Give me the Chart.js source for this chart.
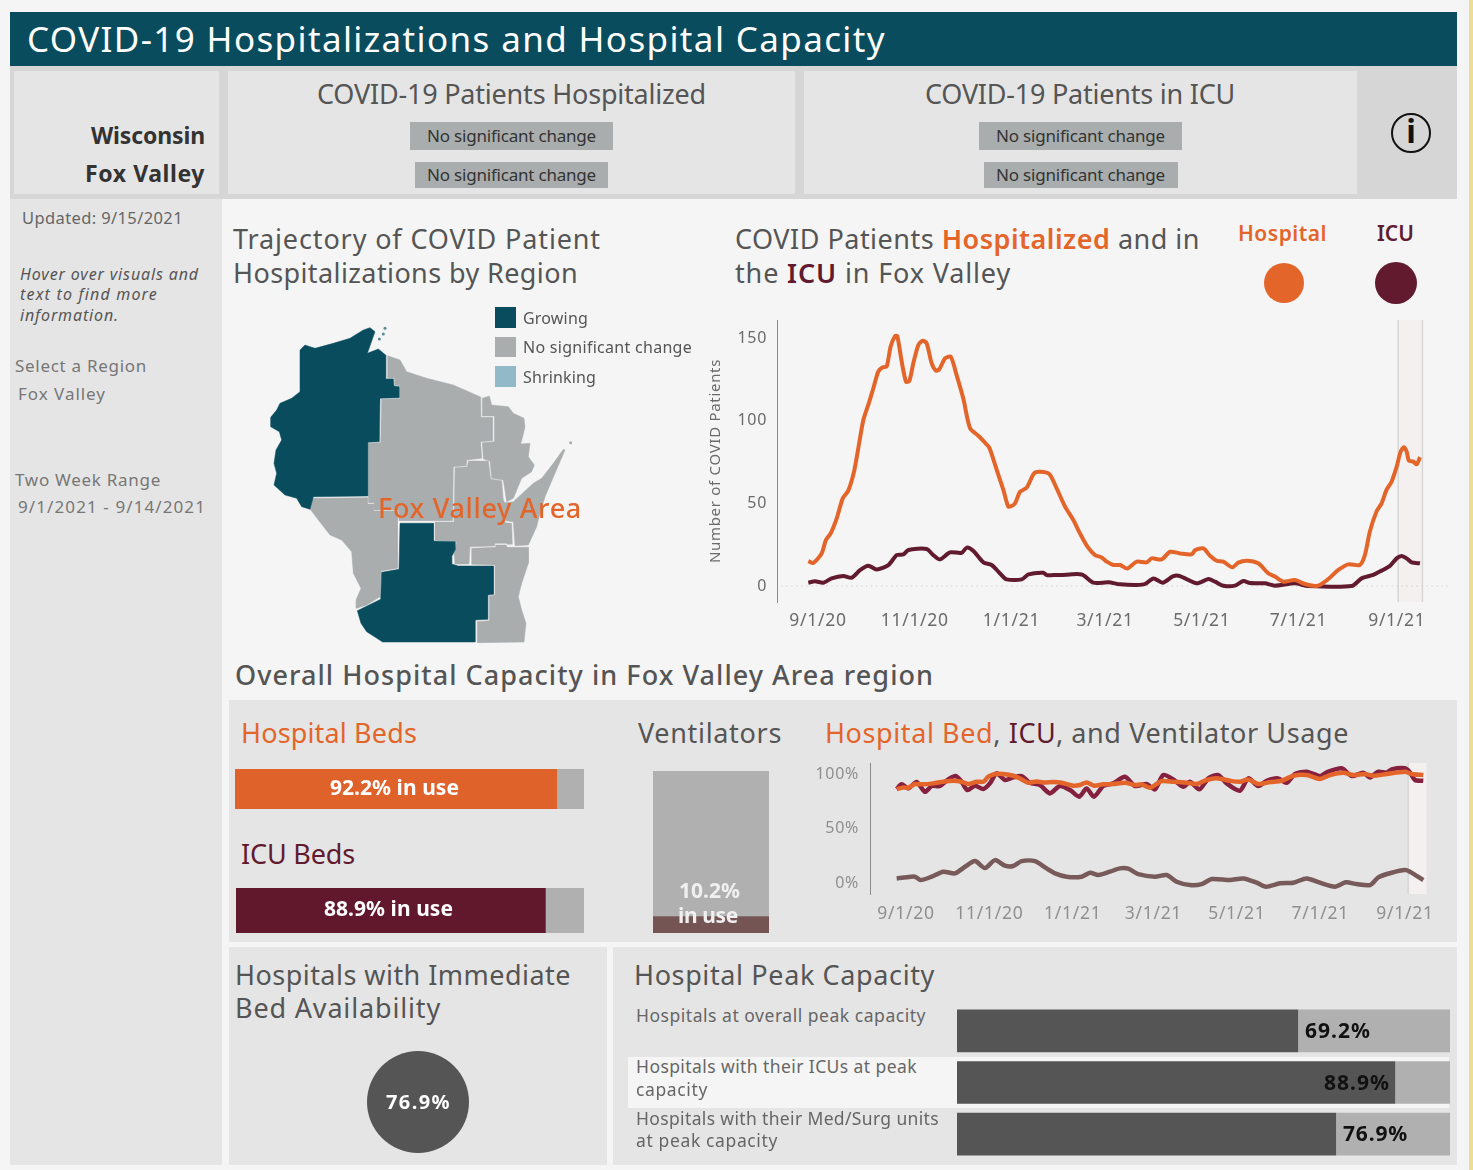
<!DOCTYPE html>
<html>
<head>
<meta charset="utf-8">
<title>COVID-19 Hospitalizations and Hospital Capacity</title>
<script src="https://cdn.jsdelivr.net/npm/chart.js@4"></script>
<style>
  html, body { margin: 0; padding: 0; background: #f5f5f5; }
  body { position: relative; width: 1473px; height: 1170px; overflow: hidden; font-family: "Noto Sans", sans-serif; }
  .box { position: absolute; }
  canvas { position: absolute; }
  .t { position: absolute; white-space: nowrap; line-height: 1; transform: translateY(-53%); z-index: 5; }
  .o { color: #e4652a; font-weight: 600; }
  .m { color: #611a2e; font-weight: 600; }
</style>
</head>
<body>
<!-- panels -->
<div class="box" style="left:10px;top:12px;width:1447px;height:54px;background:#084c5e"></div>
<div class="box" style="left:10px;top:66px;width:1447px;height:133px;background:#d6d6d6"></div>
<div class="box" style="left:14px;top:71px;width:205px;height:123px;background:#e5e5e5"></div>
<div class="box" style="left:228px;top:71px;width:567px;height:123px;background:#e5e5e5"></div>
<div class="box" style="left:804px;top:71px;width:553px;height:123px;background:#e5e5e5"></div>
<div class="box" style="left:10px;top:199px;width:212px;height:966px;background:#e5e5e5"></div>
<div class="box" style="left:229px;top:700px;width:1228px;height:242px;background:#e5e5e5"></div>
<div class="box" style="left:229px;top:947px;width:378px;height:218px;background:#e5e5e5"></div>
<div class="box" style="left:613px;top:947px;width:844px;height:218px;background:#e5e5e5"></div>
<div class="box" style="left:628px;top:1057px;width:821px;height:51px;background:#f5f5f5"></div>
<div class="box" style="left:1469px;top:0;width:4px;height:1170px;background:#ecdc96"></div>

<!-- status tags -->
<div class="box" style="left:410px;top:122px;width:203px;height:28px;background:#a9adae"></div>
<div class="box" style="left:415px;top:162px;width:193px;height:26px;background:#a9adae"></div>
<div class="box" style="left:979px;top:122px;width:203px;height:28px;background:#a9adae"></div>
<div class="box" style="left:984px;top:162px;width:194px;height:26px;background:#a9adae"></div>

<!-- legend swatches -->
<div class="box" style="left:495px;top:307px;width:21px;height:21px;background:#084c5e"></div>
<div class="box" style="left:495px;top:337px;width:21px;height:20px;background:#a9adae"></div>
<div class="box" style="left:495px;top:366px;width:21px;height:21px;background:#91b9c8"></div>
<div class="box" style="left:1264px;top:263px;width:40px;height:40px;border-radius:50%;background:#e4652a"></div>
<div class="box" style="left:1375px;top:262px;width:42px;height:42px;border-radius:50%;background:#611a2e"></div>
<div class="box" style="left:1391px;top:113px;width:36px;height:36px;border:2px solid #111;border-radius:50%"></div>

<!-- charts -->
<canvas id="mapChart" width="340" height="340" style="left:250px;top:310px"></canvas>
<canvas id="patientsChart" width="760" height="320" style="left:700px;top:315px"></canvas>
<canvas id="usageChart" width="630" height="175" style="left:810px;top:755px"></canvas>
<canvas id="hospitalBedChart" width="349" height="40" style="left:235px;top:769px"></canvas>
<canvas id="icuBedChart" width="348" height="45" style="left:236px;top:888px"></canvas>
<canvas id="ventilatorChart" width="116" height="162" style="left:653px;top:771px"></canvas>
<canvas id="availabilityChart" width="120" height="120" style="left:358px;top:1042px"></canvas>
<canvas id="peakChart" width="493" height="155" style="left:957px;top:1005px"></canvas>

<!-- text -->
<div class="t" data-w="859" style="left:27px;top:40px;font-size:35px;color:#fff">COVID-19 Hospitalizations and Hospital Capacity</div>
<div class="t" data-w="114" style="left:91px;top:136px;font-size:23px;font-weight:700;color:#333">Wisconsin</div>
<div class="t" data-w="120" style="left:85px;top:174px;font-size:23px;font-weight:700;color:#333">Fox Valley</div>
<div class="t" data-w="389" style="left:317px;top:94px;font-size:27px;color:#555">COVID-19 Patients Hospitalized</div>
<div class="t" data-w="310" style="left:925px;top:94px;font-size:27px;color:#555">COVID-19 Patients in ICU</div>
<div class="t" data-w="169" style="left:427px;top:136px;font-size:17px;color:#333">No significant change</div>
<div class="t" data-w="169" style="left:427px;top:175px;font-size:17px;color:#333">No significant change</div>
<div class="t" data-w="169" style="left:996px;top:136px;font-size:17px;color:#333">No significant change</div>
<div class="t" data-w="169" style="left:996px;top:175px;font-size:17px;color:#333">No significant change</div>
<div class="t" style="left:1403px;top:132px;font-size:32px;font-weight:700;color:#111;width:16px;text-align:center">i</div>

<div class="t" data-w="161" style="left:22px;top:219px;font-size:16.5px;color:#666">Updated: 9/15/2021</div>
<div class="t" data-w="179" style="left:20px;top:274px;font-size:16px;font-style:italic;color:#555">Hover over visuals and</div>
<div class="t" data-w="138" style="left:20px;top:294px;font-size:16px;font-style:italic;color:#555">text to find more</div>
<div class="t" data-w="99" style="left:20px;top:315px;font-size:16px;font-style:italic;color:#555">information.</div>
<div class="t" data-w="132" style="left:15px;top:366px;font-size:17px;color:#777">Select a Region</div>
<div class="t" data-w="88" style="left:18px;top:394px;font-size:17px;color:#777">Fox Valley</div>
<div class="t" data-w="146" style="left:15px;top:480px;font-size:17px;color:#777">Two Week Range</div>
<div class="t" data-w="188" style="left:18px;top:507px;font-size:17px;color:#777">9/1/2021 - 9/14/2021</div>

<div class="t" data-w="368" style="left:233px;top:239px;font-size:27px;color:#555">Trajectory of COVID Patient</div>
<div class="t" data-w="345" style="left:233px;top:273px;font-size:27px;color:#555">Hospitalizations by Region</div>
<div class="t" data-w="65" style="left:523px;top:318px;font-size:16px;color:#555">Growing</div>
<div class="t" data-w="169" style="left:523px;top:347px;font-size:16px;color:#555">No significant change</div>
<div class="t" data-w="73" style="left:523px;top:377px;font-size:16px;color:#555">Shrinking</div>
<div class="t" data-w="204" style="left:378px;top:508px;font-size:27px;font-weight:500;color:#e4652a">Fox Valley Area</div>

<div class="t" data-w="465" style="left:735px;top:239px;font-size:27px;color:#555">COVID Patients <span class="o">Hospitalized</span> and in</div>
<div class="t" data-w="276" style="left:735px;top:273px;font-size:27px;color:#555">the <span class="m">ICU</span> in Fox Valley</div>
<div class="t" data-w="89" style="left:1238px;top:234px;font-size:21px;font-weight:600;color:#e4652a">Hospital</div>
<div class="t" data-w="37" style="left:1377px;top:234px;font-size:21px;font-weight:600;color:#611a2e">ICU</div>

<div class="t" data-w="699" style="left:235px;top:675px;font-size:27px;font-weight:500;color:#555">Overall Hospital Capacity in Fox Valley Area region</div>
<div class="t" data-w="176" style="left:241px;top:733px;font-size:27px;color:#e4652a">Hospital Beds</div>
<div class="t" data-w="114" style="left:241px;top:854px;font-size:27px;color:#611a2e">ICU Beds</div>
<div class="t" data-w="144" style="left:638px;top:733px;font-size:27px;color:#555">Ventilators</div>
<div class="t" data-w="524" style="left:825px;top:733px;font-size:27px;color:#555"><span style="color:#e4652a">Hospital Bed</span>, <span style="color:#611a2e">ICU</span>, and Ventilator Usage</div>
<div class="t" data-w="129" style="left:330px;top:788px;font-size:21px;font-weight:700;color:#fff">92.2% in use</div>
<div class="t" data-w="129" style="left:324px;top:909px;font-size:21px;font-weight:700;color:#fff">88.9% in use</div>
<div class="t" data-w="61" style="left:679px;top:891px;font-size:21px;font-weight:700;color:#f0f0f0">10.2%</div>
<div class="t" data-w="60" style="left:678px;top:916px;font-size:21px;font-weight:700;color:#f0f0f0">in use</div>

<div class="t" data-w="336" style="left:235px;top:975px;font-size:27px;color:#555">Hospitals with Immediate</div>
<div class="t" data-w="206" style="left:235px;top:1008px;font-size:27px;color:#555">Bed Availability</div>
<div class="t" data-w="65" style="left:386px;top:1103px;font-size:20px;font-weight:700;color:#fff">76.9%</div>
<div class="t" data-w="301" style="left:634px;top:975px;font-size:27px;color:#555">Hospital Peak Capacity</div>
<div class="t" data-w="290" style="left:636px;top:1016px;font-size:17.5px;color:#666">Hospitals at overall peak capacity</div>
<div class="t" data-w="281" style="left:636px;top:1067px;font-size:17.5px;color:#666">Hospitals with their ICUs at peak</div>
<div class="t" data-w="72" style="left:636px;top:1090px;font-size:17.5px;color:#666">capacity</div>
<div class="t" data-w="303" style="left:636px;top:1119px;font-size:17.5px;color:#666">Hospitals with their Med/Surg units</div>
<div class="t" data-w="142" style="left:636px;top:1141px;font-size:17.5px;color:#666">at peak capacity</div>
<div class="t" data-w="66" style="left:1305px;top:1031px;font-size:21px;font-weight:700;color:#111">69.2%</div>
<div class="t" data-w="66" style="left:1324px;top:1083px;font-size:21px;font-weight:700;color:#111">88.9%</div>
<div class="t" data-w="65" style="left:1343px;top:1134px;font-size:21px;font-weight:700;color:#111">76.9%</div>

<script>
// days counted from 9/1/20
const tickDays = [0, 61, 122, 181, 242, 303, 365];
const tickLabels = ["9/1/20", "11/1/20", "1/1/21", "3/1/21", "5/1/21", "7/1/21", "9/1/21"];

const hospitalDays = [-6.1,-3,2.3,5,8,11.8,15.6,19.1,22.7,25.4,28.6,31.7,34.9,38,40.8,43.3,45.8,48.6,50,52.8,55.5,57.6,60.1,63.3,66,68.5,71.7,74.4,76.5,80.1,83.7,87.4,91.6,95.9,101.1,104.7,108,112.7,116.9,120,122.1,124.3,127.4,131.6,136.2,140,145.9,150.5,155.8,161,165.2,169.9,174.7,178.9,182.1,186.3,190.5,195.1,201,207.3,210.4,216.7,222,228.3,235.7,237.8,243,247.2,251.4,255.6,261.2,265,270.3,277.6,283.9,288.1,293.4,300.7,307,313.4,316.5,321.8,328.1,334.4,341.7,344.9,348,352.2,355.4,358.5,361.7,364.9,367.4,369.5,371.2,372.6,375.4,377.5,379.6];
const hospitalPatients = [15.1,13.9,19.7,27.8,31.8,40.9,53,57.7,69.1,83.3,100.4,109.5,119.6,129.7,132.3,132.7,144.8,151.2,151.2,135.7,123.6,124,134.7,145.8,148.4,146.8,134.7,130.3,131.1,137.7,138.7,127.6,113.5,95.4,90.9,87.3,83.7,70.2,58.1,48,48.4,50,57,59.5,68.1,69.1,67.7,59,48,39.9,31.8,23.8,18.7,17.3,14.7,12.7,12.7,10.6,14.7,14.3,16.7,16.1,20.7,19.7,19.1,21.7,22.7,18.3,15.3,14.7,11.3,14.1,15.3,13.7,7.7,5.7,2.6,3.6,1.2,0,0.6,4.2,9.7,13.1,12.7,18.8,32.9,45,50,58.1,63.1,72.2,81.3,83.9,81.3,75.8,75.2,73.6,77.9];

const icuDays = [-6.1,-1.9,3.4,8.6,16,21.2,26.5,31.7,37,44.4,49.6,53.8,57,68.5,72.7,76.9,83.2,90.6,93.8,98,104.3,109.5,114.8,119,128.5,132.7,142.1,144.2,148.4,152.6,166.3,173.7,183.1,190.5,201,206.2,211.5,217.4,224.1,228.3,238.8,246.2,250.4,255.6,262.9,268.2,272.4,281.8,288.1,300.7,309.1,336.5,342.8,350.1,355.4,360.6,364.9,368,371.2,374.3,379.6];
const icuPatients = [2,2.8,2,4.6,6,5,9.6,12.3,10,12.7,18.7,19.1,21.8,22.4,18.7,16.1,20.3,20.1,23.2,21.2,14.3,12.7,7.6,4,4,7,8,6.6,6.6,6.6,7,2,2.2,1,0.6,1.2,4.6,2,6,6,1.6,4.2,2.6,0.2,0.2,3,1.8,1.6,0.2,1.6,0,0,4.6,6.7,9.3,12.1,16.7,18.2,16.7,14.3,13.7];

const bedUseDays = [-6.8,-1.9,1.7,6.6,12.7,20,27.3,34.6,40.7,45.6,51.7,56.6,60.2,65.1,71.2,78.5,84.6,89.5,95.6,100.5,107.8,113.9,122.4,127.3,132.1,137.5,144.3,151.6,160.2,167.5,172.4,178.5,183.3,187,195.5,205.3,212.6,219.9,227.2,237,244.3,250.4,257.7,266.3,274.8,283.3,293.1,302.8,310.1,319.9,327.2,335.7,341.8,351.6,365,369.9,378.4];
const bedUsePct = [86.2,87.7,87.4,90.8,90.5,91.4,92.9,93.8,92.9,90.8,92.9,92.9,97.5,100,100,98.4,95.1,92,93.2,92.3,92.6,92,89.3,89.9,92.3,89.3,90.5,90.8,92,89.9,90.5,87.4,90.8,93.5,92.9,92,90.8,94.5,96,93.8,92.9,95,90.8,92.6,93.8,98.4,99,95.4,99,101.2,99,100,98.4,100,102.1,100,99];

const icuUseDays = [-6.8,-3.2,1.7,7.8,13.9,18.8,24.9,31,36.3,40.7,44.9,50.5,56.6,61.4,66.3,72.4,78.5,84.6,90.7,98,105.3,112.6,120,126.8,132.1,137.5,144.3,151.6,160.2,167.5,176,182.1,188.2,195.5,202.9,207.7,214.6,221.2,228.5,234.6,244.3,250.4,257.7,263.8,272.3,278.4,284.5,293.1,302.8,307.7,318.7,326,334.5,339.4,345.5,351.6,355.2,365,368.6,372.3,378.4];
const icuUsePct = [86.2,90.5,86.8,92.6,83.7,89,89,95.1,98.1,92.9,85.3,89.3,86.2,91.4,100.6,94.5,96.9,98.1,92,89.9,82.2,89,85.3,79.2,86.8,79.2,89,91.4,97.5,89,90.8,85.9,99,95,88.3,92.9,85.9,96,99,91.4,84.7,96,89,93.8,96,92,100,102.1,98.1,101.5,105.2,98.1,101.2,96.9,102.1,101.2,104.2,105.2,101.5,94.5,93.8];

const ventUseDays = [-6.8,0.5,6.6,10.7,18.8,27.3,35.8,43.2,50.5,57.8,65.1,72.4,78.5,84.6,94.4,101.7,109,117.5,128.5,134.6,140.7,149.2,156.5,162.6,169.9,182.1,190.7,198,207.7,216.3,223.6,237,246.8,256.5,263.3,273.6,283.3,293.1,302.8,313.8,321.6,329.6,339.4,345.5,355.2,365,368.6,378.4];
const ventUsePct = [4.2,5.2,5.8,2.7,5.8,10.4,8.8,14.9,20.1,13.7,21,15.9,15.6,20.1,20.1,14.3,8.8,5.8,5.8,9.4,7.3,10.4,13.4,13.1,8.2,5.8,7.3,1.2,-1.9,-1,3.6,2.7,4.2,0.3,-3.4,-0.3,0.3,4.2,0.3,-3.4,0.6,-1,-1.9,5.2,9.4,11.9,10.4,2.7];

const hospitalBedsUsed = [92.2];
const hospitalBedsFree = [7.8];
const icuBedsUsed = [88.9];
const icuBedsFree = [11.1];
const ventilatorsUsed = [10.2];
const ventilatorsFree = [89.8];
const immediateBeds = [76.9];
const peakRows = ["Overall", "ICU", "Med/Surg"];
const peakAtCapacity = [69.2, 88.9, 76.9];
const peakRest = [30.8, 11.1, 23.1];

// region outlines, in map units
const regionNorthwest = [[150,120],[165,105],[180,110],[195,115],[250,100],[300,85],[340,60],[360,53],[375,65],[368,85],[352,130],[385,117],[407,135],[407,207],[430,207],[432,228],[447,230],[447,263],[390,265],[388,395],[353,397],[353,558],[190,560],[180,598],[155,590],[140,565],[105,555],[72,525],[80,490],[72,460],[78,420],[95,390],[88,365],[62,350],[62,322],[80,300],[90,280],[125,265],[150,245]];
const regionNorth = [[413,137],[450,150],[470,185],[530,205],[610,225],[690,260],[692,322],[727,322],[727,392],[692,395],[695,445],[650,450],[648,467],[610,470],[608,632],[555,632],[447,632],[445,600],[372,600],[372,578],[355,578],[355,400],[392,398],[395,268],[450,266],[450,228],[435,225],[433,205],[412,205]];
const regionNortheast = [[697,265],[718,258],[725,285],[775,290],[790,310],[822,325],[825,350],[818,380],[812,402],[840,400],[835,440],[853,465],[845,485],[815,505],[790,565],[770,575],[760,510],[725,505],[720,453],[700,447],[697,398],[733,395],[733,318],[697,318]];
const regionLakeshore = [[765,578],[790,575],[850,520],[875,505],[910,460],[940,418],[945,420],[915,490],[885,560],[870,610],[860,650],[835,705],[795,707],[790,635],[768,632]];
const regionFoxValley = [[615,473],[652,470],[655,453],[715,453],[722,508],[755,512],[760,570],[770,590],[765,638],[785,640],[787,703],[772,703],[770,700],[735,700],[733,708],[660,710],[657,762],[615,762],[612,730],[620,695],[555,690],[555,636],[612,636]];
const regionWest = [[188,565],[352,563],[352,582],[370,582],[370,603],[442,603],[442,775],[393,783],[390,860],[350,885],[320,895],[318,870],[333,835],[310,790],[305,725],[275,690],[240,675],[205,630],[180,597]];
const regionSouth = [[450,640],[550,640],[550,693],[615,695],[615,720],[605,740],[605,762],[625,768],[730,768],[730,853],[713,855],[713,928],[675,930],[675,996],[398,996],[350,965],[333,940],[322,902],[392,868],[395,787],[447,778]];
const regionSoutheast = [[665,715],[735,712],[737,705],[768,705],[772,712],[835,712],[835,760],[815,820],[805,860],[815,900],[828,940],[822,996],[682,998],[682,935],[718,932],[718,858],[735,855],[735,765],[665,763]];
const islandsTeal = [[405,55],[400,72],[388,87]];
const islandsGray = [[962,398]];

const ORANGE = "#e4652a";
const MAROON = "#611a2e";
const TEAL = "#084c5e";
const GRAY = "#a9adae";

// stretch the text so it takes the same width as the original
document.querySelectorAll(".t[data-w]").forEach((el) => {
  const w = el.getBoundingClientRect().width;
  el.style.letterSpacing = (Number(el.dataset.w) - w) / el.textContent.length + "px";
});

function points(xs, ys) {
  return xs.map((x, i) => ({ x: x, y: ys[i] }));
}

function noAxisPadding(axis) {
  axis.paddingTop = 0;
  axis.paddingBottom = 0;
  axis.paddingLeft = 0;
  axis.paddingRight = 0;
}

// axis labels are a little more spread out than the font's default
const spacedText = {
  id: "spacedText",
  beforeDraw(chart) {
    chart.ctx.letterSpacing = "0.7px";
  },
};

function bandPlugin(start, end, bothSides) {
  return {
    id: "band",
    beforeDatasetsDraw(chart) {
      const { ctx, chartArea, scales } = chart;
      const x0 = scales.x.getPixelForValue(start);
      const x1 = scales.x.getPixelForValue(end);
      ctx.save();
      ctx.fillStyle = "#f3f0ef";
      ctx.fillRect(x0, chartArea.top, x1 - x0, chartArea.bottom - chartArea.top);
      ctx.fillStyle = "#d6d6d6";
      ctx.fillRect(x0 - 1, chartArea.top, 1.5, chartArea.bottom - chartArea.top);
      if (bothSides) ctx.fillRect(x1 - 0.5, chartArea.top, 1.5, chartArea.bottom - chartArea.top);
      ctx.restore();
    },
  };
}

function lineSet(xs, ys, color, width) {
  return {
    data: points(xs, ys),
    borderColor: color,
    borderWidth: width,
    pointRadius: 0,
    tension: 0.25,
    borderJoinStyle: "round",
    clip: false,
  };
}

function xAxis(min, max, height, color, padding) {
  return {
    type: "linear",
    min: min,
    max: max,
    grid: { display: false },
    border: { display: false },
    afterBuildTicks: (axis) => { axis.ticks = tickDays.map((d) => ({ value: d })); },
    afterFit: (axis) => { axis.height = height; noAxisPadding(axis); },
    ticks: {
      autoSkip: false,
      maxRotation: 0,
      padding: padding,
      color: color,
      font: { family: "Noto Sans", size: 17.5 },
      callback: (v) => tickLabels[tickDays.indexOf(v)],
    },
  };
}

// patients in the Fox Valley
const zeroLine = lineSet([-23, 397], [0, 0], "#c4c4c4", 1);
zeroLine.borderDash = [1, 4];
new Chart(document.getElementById("patientsChart"), {
  type: "line",
  data: {
    datasets: [
      lineSet(hospitalDays, hospitalPatients, ORANGE, 4),
      lineSet(icuDays, icuPatients, MAROON, 4),
      zeroLine,
    ],
  },
  options: {
    responsive: false,
    animation: false,
    layout: { autoPadding: false, padding: { top: 5, right: 11 } },
    plugins: { legend: { display: false }, tooltip: { enabled: false } },
    scales: {
      x: xAxis(-25.85, 397.9, 33, "#6b6b6b", 1),
      y: {
        min: -9.68,
        max: 160.9,
        grid: { display: false },
        border: { display: true, color: "#8a8a8a", width: 1 },
        afterBuildTicks: (axis) => { axis.ticks = [0, 50, 100, 150].map((v) => ({ value: v })); },
        afterFit: (axis) => { axis.width = 77; noAxisPadding(axis); },
        title: {
          display: true,
          text: "Number of COVID Patients",
          color: "#6b6b6b",
          padding: { top: 7, bottom: 0 },
          font: { family: "Noto Sans", size: 15 },
        },
        ticks: { color: "#6b6b6b", padding: 2, font: { family: "Noto Sans", size: 16 } },
      },
    },
  },
  plugins: [spacedText, bandPlugin(366, 381, true)],
});

// bed, ICU and ventilator usage
new Chart(document.getElementById("usageChart"), {
  type: "line",
  data: {
    datasets: [
      lineSet(bedUseDays, bedUsePct, ORANGE, 4.5),
      lineSet(icuUseDays, icuUsePct, "#86203f", 4.5),
      lineSet(ventUseDays, ventUsePct, "#795a5a", 4.5),
    ],
  },
  options: {
    responsive: false,
    animation: false,
    layout: { autoPadding: false, padding: { top: 8, right: 10 } },
    plugins: { legend: { display: false }, tooltip: { enabled: false } },
    scales: {
      x: xAxis(-26.3, 383.3, 36, "#8f8f8f", 2),
      y: {
        min: -10.09,
        max: 110.1,
        grid: { display: false },
        border: { display: true, color: "#8a8a8a", width: 1 },
        afterBuildTicks: (axis) => { axis.ticks = [0, 50, 100].map((v) => ({ value: v })); },
        afterFit: (axis) => { axis.width = 60; noAxisPadding(axis); },
        ticks: {
          color: "#8f8f8f",
          padding: 3,
          font: { family: "Noto Sans", size: 16 },
          callback: (v) => v + "%",
        },
      },
    },
  },
  plugins: [spacedText, bandPlugin(367.5, 380.7, false)],
});

// region map
function regionSet(outline, color) {
  const closed = outline.concat([outline[0]]);
  return {
    data: closed.map((p) => ({ x: p[0], y: p[1] })),
    showLine: true,
    fill: "shape",
    backgroundColor: color,
    borderColor: color,
    borderWidth: 0.5,
    pointRadius: 0,
    tension: 0,
  };
}

function islandSet(list, color) {
  return {
    data: list.map((p) => ({ x: p[0], y: p[1] })),
    backgroundColor: color,
    pointRadius: 1.5,
    pointBorderWidth: 0,
  };
}

new Chart(document.getElementById("mapChart"), {
  type: "scatter",
  data: {
    datasets: [
      regionSet(regionNorthwest, TEAL),
      regionSet(regionSouth, TEAL),
      regionSet(regionNorth, GRAY),
      regionSet(regionNortheast, GRAY),
      regionSet(regionLakeshore, GRAY),
      regionSet(regionFoxValley, GRAY),
      regionSet(regionWest, GRAY),
      regionSet(regionSoutheast, GRAY),
      islandSet(islandsTeal, "#5a8a98"),
      islandSet(islandsGray, GRAY),
    ],
  },
  options: {
    responsive: false,
    animation: false,
    layout: { autoPadding: false },
    plugins: { legend: { display: false }, tooltip: { enabled: false } },
    scales: {
      x: { display: false, min: 0, max: 1020 },
      y: { display: false, min: 0, max: 1020, reverse: true },
    },
  },
});

// one stacked bar filling its canvas
function stackedBar(id, labels, used, rest, usedColor, axis, barPercentage) {
  const valueKey = axis === "y" ? "x" : "y";
  const scales = {
    x: { display: false, stacked: true },
    y: { display: false, stacked: true },
  };
  scales[valueKey].min = 0;
  scales[valueKey].max = 100;
  new Chart(document.getElementById(id), {
    type: "bar",
    data: {
      labels: labels,
      datasets: [
        { data: used, backgroundColor: usedColor, barPercentage: barPercentage, categoryPercentage: 1 },
        { data: rest, backgroundColor: "#b0b0b0", barPercentage: barPercentage, categoryPercentage: 1 },
      ],
    },
    options: {
      indexAxis: axis,
      responsive: false,
      animation: false,
      plugins: { legend: { display: false }, tooltip: { enabled: false } },
      scales: scales,
    },
  });
}

stackedBar("hospitalBedChart", ["Hospital Beds"], hospitalBedsUsed, hospitalBedsFree, "#e0622b", "y", 1);
stackedBar("icuBedChart", ["ICU Beds"], icuBedsUsed, icuBedsFree, "#61182c", "y", 1);
stackedBar("ventilatorChart", ["Ventilators"], ventilatorsUsed, ventilatorsFree, "#755454", "x", 1);
stackedBar("peakChart", peakRows, peakAtCapacity, peakRest, "#555555", "y", 0.825);

// immediate bed availability
new Chart(document.getElementById("availabilityChart"), {
  type: "scatter",
  data: {
    datasets: [{
      data: [{ x: 0, y: immediateBeds[0] }],
      backgroundColor: "#555555",
      pointRadius: 51,
      pointBorderWidth: 0,
      clip: false,
    }],
  },
  options: {
    responsive: false,
    animation: false,
    layout: { autoPadding: false },
    plugins: { legend: { display: false }, tooltip: { enabled: false } },
    scales: {
      x: { display: false, min: -1, max: 1 },
      y: { display: false, min: 0, max: immediateBeds[0] * 2 },
    },
  },
});
</script>
</body>
</html>
